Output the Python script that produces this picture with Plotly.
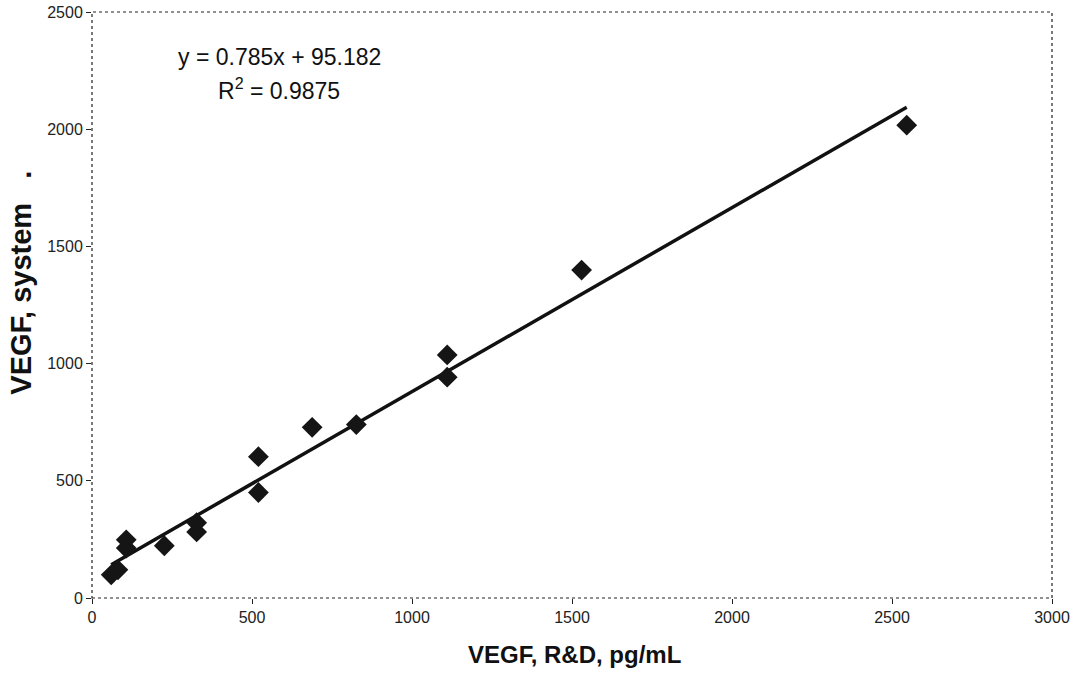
import plotly.graph_objects as go

# Data
x_vals = [60, 81, 107, 107, 226, 327, 327, 520, 520, 688, 826, 1110, 1110, 1530, 2546]
y_vals = [99, 120, 248, 213, 223, 321, 282, 603, 450, 728, 740, 1037, 942, 1399, 2017]

slope = 0.785
intercept = 95.182
r_squared = 0.9875

x_ticks = [0, 500, 1000, 1500, 2000, 2500, 3000]
y_ticks = [0, 500, 1000, 1500, 2000, 2500]

x_title = "VEGF, R&D, pg/mL"
y_title = "VEGF, system" + "&nbsp;" * 3 + "."

trend_x = [min(x_vals), max(x_vals)]
trend_y = [slope * v + intercept for v in trend_x]

FONT = "Arial, Liberation Sans, sans-serif"

fig = go.Figure()
fig.add_trace(go.Scatter(
    x=trend_x, y=trend_y, mode="lines",
    line=dict(color="#111111", width=3.5),
    showlegend=False, hoverinfo="skip"))
fig.add_trace(go.Scatter(
    x=x_vals, y=y_vals, mode="markers",
    marker=dict(symbol="diamond", size=16, color="#151515",
                line=dict(width=0)),
    showlegend=False))

# dotted plot border
fig.add_shape(type="rect", xref="paper", yref="paper", x0=0, y0=0, x1=1, y1=1,
              line=dict(color="#222222", width=1.2, dash="dot"), layer="above")

fig.add_annotation(x=0.195, y=0.923, xref="paper", yref="paper",
                   text=f"y = {slope}x + {intercept}", showarrow=False,
                   font=dict(family=FONT, size=23, color="#111111"),
                   xanchor="center", yanchor="middle")
fig.add_annotation(x=0.195, y=0.868, xref="paper", yref="paper",
                   text=f"R<sup>2</sup> = {r_squared}", showarrow=False,
                   font=dict(family=FONT, size=23, color="#111111"),
                   xanchor="center", yanchor="middle")

# axis titles
fig.add_annotation(x=0.503, y=-0.097, xref="paper", yref="paper",
                   text=f"<b>{x_title}</b>", showarrow=False,
                   font=dict(family=FONT, size=24, color="#111111"),
                   xanchor="center", yanchor="middle")
fig.add_annotation(x=-0.074, y=0.538, xref="paper", yref="paper",
                   text=f"<b>{y_title}</b>", showarrow=False, textangle=-90,
                   font=dict(family=FONT, size=29, color="#111111"),
                   xanchor="center", yanchor="middle")

fig.update_layout(
    width=1075, height=674,
    margin=dict(l=92, r=23, t=12, b=76),
    paper_bgcolor="white", plot_bgcolor="white",
    font=dict(family=FONT, color="#111111"),
    xaxis=dict(range=[0, 3000], tickvals=x_ticks, ticks="outside", ticklen=5,
               tickcolor="#222222", showgrid=False, zeroline=False, showline=False,
               automargin=False,
               tickfont=dict(size=16, family=FONT, color="#222222")),
    yaxis=dict(range=[0, 2500], tickvals=y_ticks, ticks="outside", ticklen=5,
               tickcolor="#222222", showgrid=False, zeroline=False, showline=False,
               automargin=False,
               tickfont=dict(size=16, family=FONT, color="#222222")),
)

fig.write_html("out.html", config={"displayModeBar": False},
               post_script="document.body.style.margin='0';document.body.style.overflow='hidden';")
